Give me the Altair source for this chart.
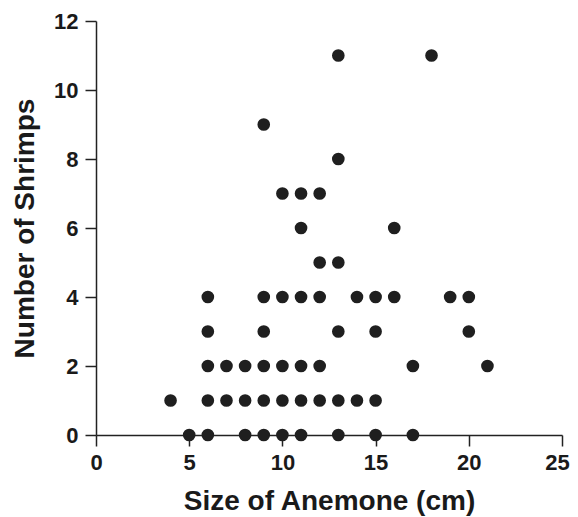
import altair as alt
import pandas as pd

# Anemone size (cm) and number of shrimps, grouped by shrimp count
size_0 = [5, 6, 8, 9, 10, 11, 13, 15, 17]
size_1 = [4, 6, 7, 8, 9, 10, 11, 12, 13, 14, 15]
size_2 = [6, 7, 8, 9, 10, 11, 12, 17, 21]
size_3 = [6, 9, 13, 15, 20]
size_4 = [6, 9, 10, 11, 12, 14, 15, 16, 19, 20]
size_5 = [12, 13]
size_6 = [11, 16]
size_7 = [10, 11, 12]
size_8 = [13]
size_9 = [9]
size_11 = [13, 18]

groups = {0: size_0, 1: size_1, 2: size_2, 3: size_3, 4: size_4, 5: size_5,
          6: size_6, 7: size_7, 8: size_8, 9: size_9, 11: size_11}

rows = []
for n, sizes in groups.items():
    for s in sizes:
        rows.append({"size": s, "shrimps": n})
df = pd.DataFrame(rows)

FONT = "Liberation Sans"

chart = alt.Chart(df).mark_circle(size=160, color="#1f1f1f", opacity=1).encode(
    x=alt.X("size:Q",
            scale=alt.Scale(domain=[0, 25], nice=False),
            axis=alt.Axis(title="Size of Anemone (cm)", values=[0, 5, 10, 15, 20, 25],
                          grid=False, tickSize=11, labelPadding=6, titlePadding=14,
                          labelFlush=False,
                          labelOffset={"condition": {"test": "datum.value == 25", "value": -5},
                                       "value": 0})),
    y=alt.Y("shrimps:Q",
            scale=alt.Scale(domain=[0, 12], nice=False),
            axis=alt.Axis(title="Number of Shrimps", values=[0, 2, 4, 6, 8, 10, 12],
                          grid=False, tickSize=11, labelPadding=7, titlePadding=14,
                          labelFlush=False)),
).properties(
    width=466,
    height=414,
    autosize=alt.AutoSizeParams(type="none"),
    padding={"left": 88, "top": 13, "right": 8, "bottom": 82},
).configure_view(
    stroke=None
).configure_axis(
    domainColor="#222222",
    domainWidth=1.5,
    tickColor="#222222",
    tickWidth=1.5,
    labelFont=FONT,
    labelFontSize=22,
    labelFontWeight="bold",
    labelColor="#1a1a1a",
    titleFont=FONT,
    titleFontSize=28,
    titleFontWeight="bold",
    titleColor="#1a1a1a",
)

chart.save("out.html", embed_options={"renderer": "svg", "actions": False})
